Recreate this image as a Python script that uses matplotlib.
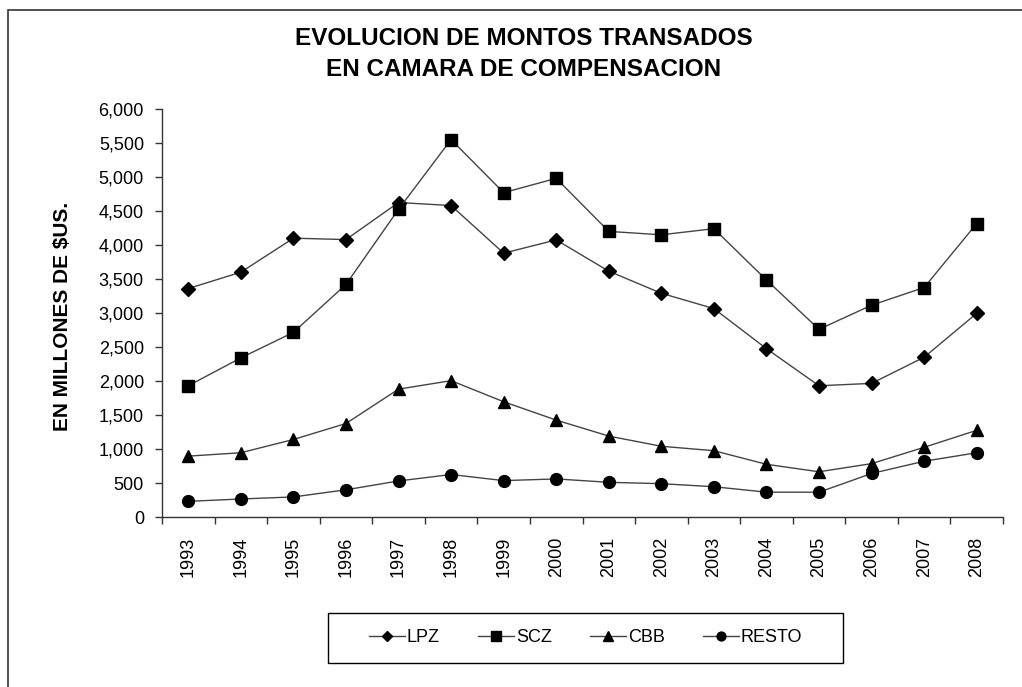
import matplotlib.pyplot as plt
import numpy as np
from matplotlib.patches import Rectangle
from matplotlib.ticker import StrMethodFormatter, FixedLocator

plt.rcParams["font.family"] = ["Liberation Sans", "DejaVu Sans"]

years = ["1993", "1994", "1995", "1996", "1997", "1998", "1999", "2000",
         "2001", "2002", "2003", "2004", "2005", "2006", "2007", "2008"]
lpz = [3360, 3600, 4100, 4080, 4625, 4580, 3880, 4075,
       3615, 3290, 3065, 2475, 1930, 1965, 2350, 2995]
scz = [1930, 2340, 2715, 3420, 4525, 5550, 4770, 4980,
       4200, 4150, 4240, 3485, 2760, 3115, 3375, 4315]
cbb = [895, 945, 1140, 1375, 1880, 2005, 1695, 1425,
       1190, 1040, 975, 775, 665, 785, 1025, 1275]
resto = [230, 265, 295, 400, 530, 625, 535, 560,
         510, 490, 445, 365, 365, 640, 820, 945]

series = [("LPZ", lpz, "D", 7), ("SCZ", scz, "s", 9),
          ("CBB", cbb, "^", 9), ("RESTO", resto, "o", 8.5)]

W, H = 1022, 687
fig = plt.figure(figsize=(W / 100, H / 100), dpi=100)
ax = fig.add_axes([162 / W, 1 - 517 / H, (1003 - 162) / W, (517 - 109) / H])

x = np.arange(len(years))
handles = []
for name, vals, mk, ms in series:
    h, = ax.plot(x, vals, color="#444444", lw=1.0, marker=mk, markersize=ms,
                 markerfacecolor="black", markeredgecolor="black", label=name)
    handles.append(h)

ax.set_xlim(-0.5, len(years) - 0.5)
ax.set_ylim(0, 6000)
ax.set_yticks(np.arange(0, 6001, 500))
ax.yaxis.set_major_formatter(StrMethodFormatter("{x:,.0f}"))
ax.set_xticks(x)
ax.set_xticklabels(years, rotation=90)
ax.xaxis.set_minor_locator(FixedLocator(np.arange(-0.5, len(years), 1.0)))
ax.tick_params(axis="x", which="major", length=0, pad=14, labelsize=13)
ax.tick_params(axis="x", which="minor", length=5, width=1, color="#333333")
ax.tick_params(axis="y", length=5, width=1, pad=8, labelsize=13, color="#333333")

for s in ["top", "right"]:
    ax.spines[s].set_visible(False)
for s in ["left", "bottom"]:
    ax.spines[s].set_color("#333333")
    ax.spines[s].set_linewidth(1.0)

fig.text(62 / W, 1 - 316 / H, "EN MILLONES DE $US.", rotation=90,
         ha="center", va="center", fontsize=15, fontweight="bold")
fig.text(524 / W, 1 - 54 / H, "EVOLUCION DE MONTOS TRANSADOS\nEN CAMARA DE COMPENSACION",
         ha="center", va="center", fontsize=17.5, fontweight="bold",
         linespacing=1.4)

# outer chart border (only top/left edges visible in the frame)
fig.patches.append(Rectangle((8 / W, -0.1), 1.2, 1 - 10 / H + 0.1,
                             transform=fig.transFigure, fill=False,
                             edgecolor="#333333", lw=1.2))

# legend box
fig.patches.append(Rectangle((328 / W, 1 - 663 / H), (843 - 328) / W, 50 / H,
                             transform=fig.transFigure, fill=False,
                             edgecolor="black", lw=1.0))
fig.legend(handles=handles, loc="center", ncol=4, frameon=False,
           bbox_to_anchor=((328 + 843) / 2 / W, 1 - 638 / H),
           fontsize=13, handlelength=2.0, handletextpad=0.1,
           columnspacing=2.1, markerscale=0.75)

fig.savefig("out.png", dpi=100, facecolor="white")
